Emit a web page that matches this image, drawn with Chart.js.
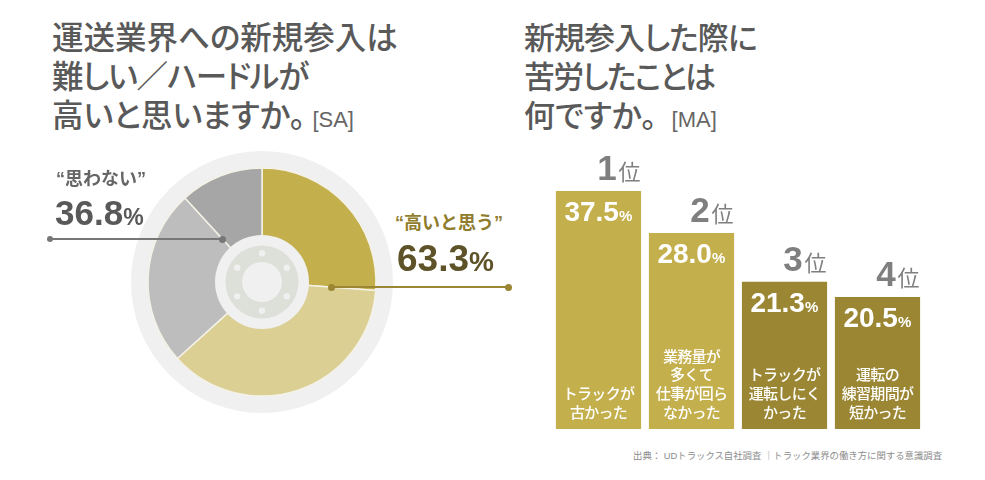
<!DOCTYPE html>
<html lang="ja"><head><meta charset="utf-8">
<script src="https://cdn.jsdelivr.net/npm/chart.js@4"></script>
<style>
html,body{margin:0;padding:0;background:#fff;width:985px;height:480px;overflow:hidden}
body{position:relative;font-family:"Liberation Sans","Noto Sans CJK JP",sans-serif}
canvas{position:absolute}
.t{position:absolute;white-space:nowrap;line-height:1}
.title{font-size:31.5px;font-weight:500;color:#595959;line-height:39px;font-feature-settings:"palt"}
.title small{font-size:22px;font-weight:400;color:#666;letter-spacing:0}
.line{position:absolute;height:2px}
.dot{position:absolute;width:7px;height:7px;border-radius:50%}
</style></head><body>
<div class="t title" style="left:52px;top:19px">運送業界への新規参入は<br><span style="letter-spacing:-1.1px">難しい／ハードルが</span><br>高いと思いますか。<small style="margin-left:7px">[SA]</small></div>
<div class="t title" style="left:524px;top:19px;font-size:31px"><span style="letter-spacing:-1px">新規参入した際に</span><br><span style="letter-spacing:-1.8px">苦労したことは</span><br>何ですか。<small style="margin-left:15px">[MA]</small></div>
<canvas id="pie" width="262" height="262" style="left:131px;top:151px"></canvas>
<canvas id="bars" width="372" height="279" style="left:552px;top:150px"></canvas>
<div class="line" style="left:50px;width:173px;top:238px;background:#777"></div>
<div class="dot" style="left:47px;top:235.5px;width:6px;height:6px;background:#777"></div>
<div class="dot" style="left:219px;top:235.5px;background:#777"></div>
<div class="line" style="left:331px;width:177px;top:286px;background:#9b8733"></div>
<div class="dot" style="left:328px;top:283.5px;background:#9b8733"></div>
<div class="dot" style="left:505px;top:283.5px;background:#9b8733"></div>
<div class="t" style="left:56px;top:170px;font-size:18px;font-weight:700;color:#666">“思わない”</div>
<div class="t" style="left:55px;top:195px;font-size:35px;font-weight:700;color:#595959">36.8<span style="font-size:23px">%</span></div>
<div class="t" style="left:395px;top:214px;font-size:18px;font-weight:700;color:#8f7c2c">“高いと思う”</div>
<div class="t" style="left:397px;top:240px;font-size:37px;font-weight:700;color:#5e5228">63.3<span style="font-size:28px">%</span></div>
<div class="t" style="left:633px;top:451px;font-size:9.4px;color:#8c8c8c">出典： UDトラックス自社調査 ｜トラック業界の働き方に関する意識調査</div>
<script>
// Doughnut slices: shares (%)
const sliceLabels = ["高いと思う(1)", "高いと思う(2)", "思わない(1)", "思わない(2)"];
const sliceValues = [26.2, 37.1, 24.9, 11.8];
const sliceColors = ["#c4af4d", "#dbcf94", "#bdbdbd", "#a6a6a6"];

// Bars: printed labels, and the heights as actually drawn in the picture
const ranks = ["1", "2", "3", "4"];
const rankUnit = "位";
const barValues = ["37.5", "28.0", "21.3", "20.5"];
const barHeights = [37.5, 30.9, 23.2, 20.8];
const barColors = ["#c4af4d", "#c4af4d", "#9b8733", "#9b8733"];
const barCaptions = [
  ["トラックが", "古かった"],
  ["業務量が", "多くて", "仕事が回ら", "なかった"],
  ["トラックが", "運転しにく", "かった"],
  ["運転の", "練習期間が", "短かった"]
];

const FONT = '"Liberation Sans","Noto Sans CJK JP",sans-serif';

const wheel = {
  id: "wheel",
  beforeDatasetsDraw(c) {
    const m = c.getDatasetMeta(0).data[0], x = m.x, y = m.y, g = c.ctx;
    g.save(); g.fillStyle = "#f0f0f0";
    g.beginPath(); g.arc(x, y, 131, 0, 7); g.fill();
    g.restore();
  },
  afterDatasetsDraw(c) {
    const m = c.getDatasetMeta(0).data[0], x = m.x, y = m.y, g = c.ctx;
    g.save();
    g.fillStyle = "#f0f0f0"; g.beginPath(); g.arc(x, y, 47, 0, 7); g.fill();
    g.fillStyle = "#dddfd9"; g.beginPath(); g.arc(x, y, 36.5, 0, 7); g.fill();
    g.fillStyle = "#f0f0f0"; g.beginPath(); g.arc(x, y, 20, 0, 7); g.fill();
    for (let i = 0; i < 6; i++) {
      const a = i * Math.PI / 3;
      g.beginPath(); g.arc(x + 28.7 * Math.sin(a), y - 28.7 * Math.cos(a), 3.2, 0, 7); g.fill();
    }
    g.restore();
  }
};

new Chart(document.getElementById("pie"), {
  type: "doughnut",
  data: { labels: sliceLabels, datasets: [{ data: sliceValues, backgroundColor: sliceColors, borderColor: "#f4f2e6", borderWidth: 1.5 }] },
  options: {
    responsive: false, animation: false, radius: 114, cutout: 47,
    layout: { padding: 0 },
    plugins: { legend: { display: false }, tooltip: { enabled: false } }
  },
  plugins: [wheel]
});

const barText = {
  id: "barText",
  afterDatasetsDraw(c) {
    const g = c.ctx;
    c.getDatasetMeta(0).data.forEach((b, i) => {
      const left = b.x - b.width / 2, right = b.x + b.width / 2;
      g.save();
      g.textBaseline = "alphabetic";
      // rank
      g.fillStyle = "#7f7f7f"; g.textAlign = "right";
      g.font = "400 22px " + FONT; g.fillText(rankUnit, right - 0.5, b.y - 10.5);
      g.font = "700 35px " + FONT; g.fillText(ranks[i], right - 24.5, b.y - 10.5);
      // value
      g.fillStyle = "#fff"; g.textAlign = "left";
      g.font = "700 28px " + FONT; g.fillText(barValues[i], left + 8.5, b.y + 30);
      const w = g.measureText(barValues[i]).width;
      g.font = "700 15px " + FONT; g.fillText("%", left + 8.5 + w, b.y + 30);
      // caption
      g.textAlign = "center"; g.font = "500 15px " + FONT; g.letterSpacing = "-0.7px";
      const lines = barCaptions[i], base = c.scales.y.getPixelForValue(0) - 11;
      lines.forEach((t, k) => g.fillText(t, b.x, base - (lines.length - 1 - k) * 18.8));
      g.letterSpacing = "0px";
      g.restore();
    });
  }
};

new Chart(document.getElementById("bars"), {
  type: "bar",
  data: { labels: ranks, datasets: [{ data: barHeights, backgroundColor: barColors, categoryPercentage: 1, barPercentage: 0.916 }] },
  options: {
    responsive: false, animation: false,
    layout: { padding: 0 },
    scales: { x: { display: false }, y: { display: false, min: 0, max: 43.96 } },
    plugins: { legend: { display: false }, tooltip: { enabled: false } }
  },
  plugins: [barText]
});
</script>
</body></html>
